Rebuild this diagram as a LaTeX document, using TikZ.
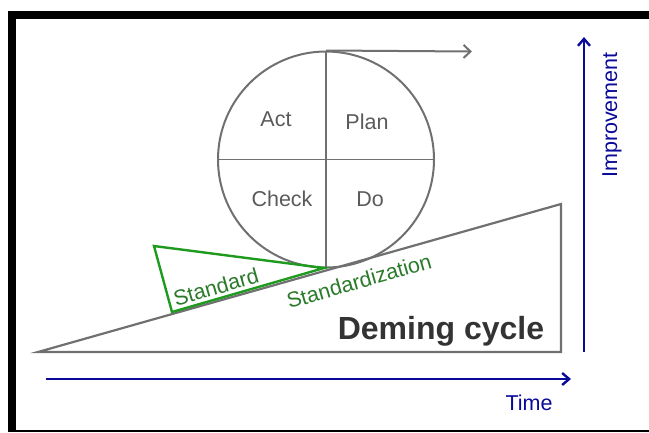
\documentclass[tikz,border=0pt]{standalone}
\usepackage{fontspec}
\setmainfont{Liberation Sans}
\usetikzlibrary{arrows.meta}
\definecolor{lgray}{HTML}{707070}
\definecolor{tgray}{HTML}{5A5A5A}
\definecolor{dgray}{HTML}{333333}
\definecolor{gline}{HTML}{1E9A1E}
\definecolor{gtext}{HTML}{2A7A2A}
\definecolor{bline}{HTML}{0A0A9A}
\tikzset{
  grayline/.style={draw=lgray, line width=2.2pt},
  blueline/.style={draw=bline, line width=2.4pt, -{Straight Barb[length=7pt,width=12pt,line width=2.4pt]}},
  phase/.style={text=tgray, font=\fontsize{21.5}{24}\selectfont},
  stdlabel/.style={text=gtext, font=\fontsize{21.5}{24}\selectfont, rotate=16, inner sep=0pt},
  bluelabel/.style={text=bline, font=\fontsize{21.5}{24}\selectfont}
}
\begin{document}
\begin{tikzpicture}[x=1pt,y=-1pt]
\useasboundingbox (0,0) rectangle (649,432);
% frame
\fill[black] (8,11) rectangle (649,19);
\fill[black] (8,11) rectangle (16,432);
\fill[black] (8,429.5) rectangle (649,432);
% wedge
\coordinate (wa) at (38,352);
\coordinate (wb) at (561,352);
\coordinate (wc) at (561,204);
\draw[grayline, line join=miter] (wa) -- (wb) -- (wc) -- cycle;
% circle
\node[circle, draw=lgray, line width=2pt, minimum size=216pt, inner sep=0pt] (c) at (326,159.5) {};
\draw[lgray, line width=1.8pt] (c.north) -- (c.south);
\draw[lgray, line width=1.8pt] (c.west) -- (c.east);
\coordinate (ar) at (472,51.5);
\draw[lgray, line width=2pt, -{Straight Barb[length=7pt,width=13pt,line width=2pt]}] (c.north) -- (ar);
\node[phase] (act) at (276,119) {Act};
\node[phase] (plan) at (367,122) {Plan};
\node[phase] (check) at (282,199) {Check};
\node[phase] (do) at (370,199) {Do};
% green standard wedge
\coordinate (ga) at (154,246);
\coordinate (gb) at (172,312);
\coordinate (gc) at (324,268);
\draw[gline, line width=2.4pt, line join=miter] (ga) -- (gb) -- (gc) -- cycle;
\node[stdlabel] (std) at (216,287) {Standard};
\node[stdlabel] (stdz) at (359,281) {Standardization};
% title
\node[text=dgray, font=\fontsize{32}{36}\bfseries] (title) at (441,331) {Deming cycle};
% axes
\coordinate (t0) at (46,379);
\coordinate (t1) at (571,379);
\draw[blueline] (t0) -- (t1);
\coordinate (i0) at (584,352);
\coordinate (i1) at (584,37);
\draw[blueline] (i0) -- (i1);
\node[bluelabel] (time) at (529,403) {Time};
\node[bluelabel, rotate=90] (imp) at (612,115) {Improvement};
\end{tikzpicture}
\end{document}
